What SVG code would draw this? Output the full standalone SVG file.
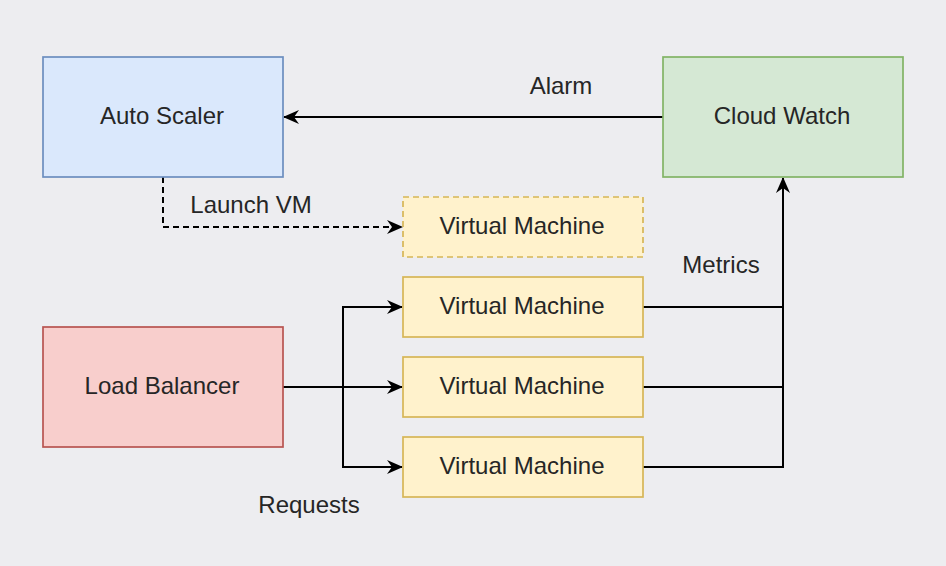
<svg xmlns="http://www.w3.org/2000/svg" width="946" height="566" viewBox="0 0 946 566">
<style>
text{font-family:"Liberation Sans",Arial,sans-serif;font-size:24px;fill:#262626;text-anchor:middle}
.ln{fill:none;stroke:#000;stroke-width:2}
.vm rect{fill:#fff2cc;stroke:#d6b656;stroke-width:1.7}
</style>
<defs>
<marker id="ah" viewBox="0 0 16 14" refX="15" refY="7" markerWidth="16" markerHeight="14" markerUnits="userSpaceOnUse" orient="auto">
<path d="M0,0 L16,7 L0,14 L5,7 Z" fill="#000"/>
</marker>
</defs>
<rect width="946" height="566" fill="#ededf0"/>
<g id="connectors">
<path class="ln" d="M663,117 H284" marker-end="url(#ah)"/>
<path class="ln" d="M163,177 V227 H402" stroke-dasharray="6,4" marker-end="url(#ah)"/>
<path class="ln" d="M283,387 H402" marker-end="url(#ah)"/>
<path class="ln" d="M343,387 V307 H402" marker-end="url(#ah)"/>
<path class="ln" d="M343,387 V467 H402" marker-end="url(#ah)"/>
<path class="ln" d="M643,307 H783"/>
<path class="ln" d="M643,387 H783"/>
<path class="ln" d="M643,467 H783 V178" marker-end="url(#ah)"/>
<text x="561" y="94">Alarm</text>
<text x="251" y="213">Launch VM</text>
<text x="721" y="273">Metrics</text>
<text x="309" y="513">Requests</text>
</g>
<g id="auto-scaler"><rect x="43" y="57" width="240" height="120" fill="#dae8fc" stroke="#6c8ebf" stroke-width="1.7"/><text x="162" y="124">Auto Scaler</text></g>
<g id="cloud-watch"><rect x="663" y="57" width="240" height="120" fill="#d5e8d4" stroke="#82b366" stroke-width="1.7"/><text x="782" y="124">Cloud Watch</text></g>
<g id="load-balancer"><rect x="43" y="327" width="240" height="120" fill="#f8cecc" stroke="#b85450" stroke-width="1.7"/><text x="162" y="394">Load Balancer</text></g>
<g id="vm-new" class="vm"><rect x="403" y="197" width="240" height="60" stroke-dasharray="6,4"/><text x="522" y="234">Virtual Machine</text></g>
<g id="vm-1" class="vm"><rect x="403" y="277" width="240" height="60"/><text x="522" y="314">Virtual Machine</text></g>
<g id="vm-2" class="vm"><rect x="403" y="357" width="240" height="60"/><text x="522" y="394">Virtual Machine</text></g>
<g id="vm-3" class="vm"><rect x="403" y="437" width="240" height="60"/><text x="522" y="474">Virtual Machine</text></g>
</svg>
